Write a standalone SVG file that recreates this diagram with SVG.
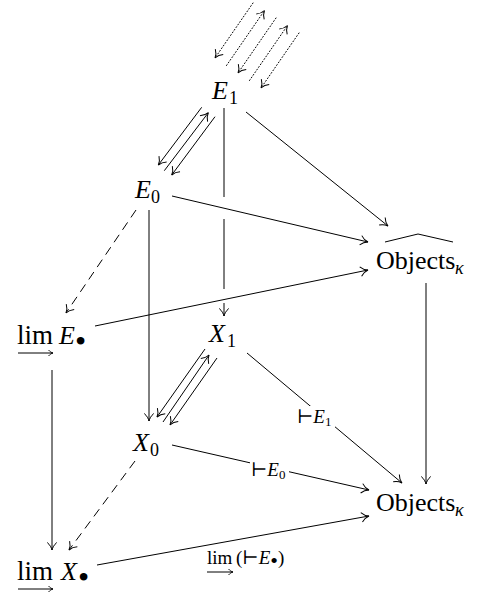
<svg xmlns="http://www.w3.org/2000/svg" width="498" height="599" viewBox="0 0 498 599">
<style>
text{font-family:"Liberation Serif","DejaVu Serif",serif;fill:#000}
.m{font-size:26px}
.lim{font-size:27px}
.i{font-style:italic}
.s{font-size:18px}
.l{font-size:19px}
.ls{font-size:13px}
.c{fill:none;stroke:#000;stroke-width:1}
.a{marker-end:url(#ah)}
.d{stroke-dasharray:9 6}
.dt{stroke-dasharray:1 2.2;stroke-linecap:round}
.bul{font-size:32px}
.lb{font-size:22px}
</style>
<defs>
<marker id="ah" viewBox="-9 -6 10 12" markerWidth="10" markerHeight="12" refX="0" refY="0" orient="auto" markerUnits="userSpaceOnUse">
<path d="M-7.5,-4.8 C-5.3,-2.1 -2.1,-0.5 0,0 C-2.1,0.5 -5.3,2.1 -7.5,4.8" fill="none" stroke="#000" stroke-width="1"/>
</marker>
<marker id="sa" viewBox="-6 -4 7 8" markerWidth="7" markerHeight="8" refX="0" refY="0" orient="auto" markerUnits="userSpaceOnUse">
<path d="M-4.5,-3 C-3,-1.3 -1.3,-0.3 0,0 C-1.3,0.3 -3,1.3 -4.5,3" fill="none" stroke="#000" stroke-width="0.9"/>
</marker>
</defs>

<g id="connectors">
<!-- dotted simplicial arrows above E1 -->
<path class="c dt a" d="M253,3 L215,58"/>
<path class="c dt a" d="M226.5,65.5 L264.5,10.5"/>
<path class="c dt a" d="M276,18 L238,73"/>
<path class="c dt a" d="M249.5,80.5 L287.5,25.5"/>
<path class="c dt a" d="M299,33 L261,88"/>
<!-- E1 to E0 triple -->
<path class="c a" d="M201.7,107.3 L158.3,165"/>
<path class="c a" d="M164.3,170.7 L208.3,112.7"/>
<path class="c a" d="M215,116.7 L171.7,175"/>
<!-- X1 to X0 triple -->
<path class="c a" d="M205,349 L157,417"/>
<path class="c a" d="M163,422 L209,355"/>
<path class="c a" d="M217,358 L170,425"/>
<!-- to Objects hat -->
<path class="c a" d="M246,112 L388,226"/>
<path class="c a" d="M172,196 L368,242"/>
<path class="c a" d="M95,326 L368,270"/>
<!-- Objects hat to Objects -->
<path class="c a" d="M426,283 L426,484"/>
<!-- to Objects -->
<path class="c a" d="M247,353 L402,483"/>
<path class="c a" d="M172,445 L369,490"/>
<path class="c a" d="M97,565 L369,516"/>
<!-- verticals -->
<path class="c a" d="M149,210 L149,421"/>
<path class="c" d="M224,108 L224,197 M224,219 L224,289"/>
<path class="c a" d="M224,303 L224,316"/>
<path class="c a" d="M52,370 L52,550"/>
<!-- dashed -->
<path class="c d a" d="M136,210 L66,313"/>
<path class="c d a" d="M135,461 L69,550"/>
</g>

<g id="label-E1">
<rect x="296" y="406" width="39" height="23" fill="#fff"/>
<text class="l" x="297" y="423">⊢<tspan class="i">E</tspan><tspan class="ls" dy="3">1</tspan></text>
</g>
<g id="label-E0">
<rect x="250" y="459" width="39" height="23" fill="#fff"/>
<text class="l" x="251" y="476">⊢<tspan class="i">E</tspan><tspan class="ls" dy="3">0</tspan></text>
</g>
<g id="label-lim">
<text class="l" x="207" y="564">lim</text>
<path class="c" style="marker-end:url(#sa)" stroke-width="0.9" d="M207,572 L233,572"/>
<text class="l" x="236" y="564">(⊢<tspan class="i">E</tspan><tspan class="lb" dy="4">•</tspan><tspan dy="-4">)</tspan></text>
</g>

<g id="node-E1">
<text class="m i" x="212" y="99">E</text><text class="s" x="229" y="104">1</text>
</g>
<g id="node-E0">
<text class="m i" x="135" y="198">E</text><text class="s" x="151" y="203">0</text>
</g>
<g id="node-X1">
<text class="m i" x="209" y="342">X</text><text class="s" x="227" y="347">1</text>
</g>
<g id="node-X0">
<text class="m i" x="133" y="451">X</text><text class="s" x="150" y="456">0</text>
</g>
<g id="node-ObjectsHat">
<path class="c" d="M385,242 L418,234 L453,242"/>
<text class="m" x="376" y="269">Objects</text><text class="s i" x="455" y="274">κ</text>
</g>
<g id="node-Objects">
<text class="m" x="376" y="511">Objects</text><text class="s i" x="455" y="516">κ</text>
</g>
<g id="node-limE">
<text class="lim" x="17" y="344">lim</text>
<path class="c" style="marker-end:url(#sa)" d="M18,353 L53,353"/>
<text class="m i" x="59" y="344">E</text>
<text class="bul" x="75" y="352">•</text>
</g>
<g id="node-limX">
<text class="lim" x="17" y="580">lim</text>
<path class="c" style="marker-end:url(#sa)" d="M18,589 L53,589"/>
<text class="m i" x="61" y="580">X</text>
<text class="bul" x="78" y="588">•</text>
</g>
</svg>
